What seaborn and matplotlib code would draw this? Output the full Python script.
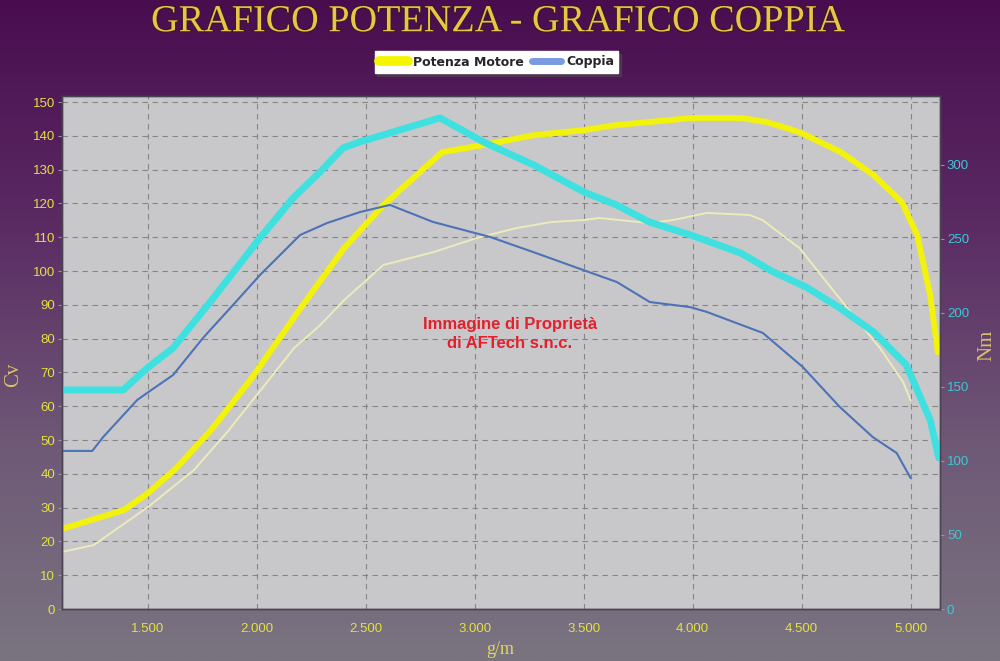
import numpy as np
import pandas as pd
import matplotlib
matplotlib.use("Agg")
import matplotlib.pyplot as plt
import seaborn as sns
from matplotlib.lines import Line2D
import matplotlib.patheffects as pe
from matplotlib.colors import LinearSegmentedColormap

# ---------------- data ----------------
rpm_potenza = [1106, 1390, 1500, 1630, 1790, 1970, 2200, 2320, 2400, 2580, 2850, 3040, 3270,
               3500, 3650, 3800, 4000, 4220, 4340, 4490, 4680, 4830, 4960, 5030, 5090, 5125]
cv_potenza = [23.7, 29.3, 34.3, 41.7, 53.0, 67.8, 89.0, 99.7, 106.8, 119.5, 135.2, 137.3, 140.2,
              141.7, 143.2, 144.1, 145.3, 145.3, 144.1, 141.1, 135.2, 128.4, 120.4, 110.7, 92.9, 76.0]

rpm_potenza_serie = [1106, 1250, 1500, 1710, 1860, 2010, 2170, 2290, 2400, 2580, 2810, 3010, 3190,
                     3350, 3500, 3570, 3800, 3910, 4065, 4260, 4320, 4490, 4615, 4735, 4860, 4965, 5000]
cv_potenza_serie = [16.9, 18.9, 30.2, 41.1, 52.1, 64.2, 77.2, 84.0, 91.4, 101.8, 105.6, 109.8, 112.7,
                    114.5, 115.1, 115.7, 114.2, 115.1, 117.2, 116.6, 115.1, 106.8, 96.7, 87.0, 77.2, 67.2, 61.8]

rpm_coppia = [1106, 1386, 1496, 1615, 1785, 2014, 2166, 2290, 2395, 2470, 2580, 2840, 3040, 3270,
              3500, 3650, 3800, 3990, 4220, 4370, 4520, 4675, 4830, 4980, 5040, 5090, 5130]
nm_coppia = [148.0, 148.0, 162.8, 176.4, 207.4, 250.7, 277.7, 295.3, 311.5, 315.5, 320.3, 331.8, 315.5, 300.0,
             281.8, 273.0, 261.5, 252.7, 240.5, 227.7, 217.6, 203.4, 187.2, 164.9, 144.6, 127.7, 102.0]

rpm_coppia_serie = [1106, 1244, 1294, 1450, 1496, 1615, 1752, 1890, 2014, 2198, 2322, 2473, 2610, 2808,
                    3069, 3267, 3496, 3652, 3803, 3987, 4065, 4322, 4505, 4675, 4826, 4936, 5000]
nm_coppia_serie = [106.8, 106.8, 116.2, 141.2, 146.0, 158.1, 183.1, 205.4, 225.7, 252.7, 260.8, 268.2, 273.0, 261.5,
                   251.4, 241.2, 229.1, 220.9, 207.4, 204.0, 200.7, 186.5, 163.5, 136.5, 116.2, 105.4, 88.5]

x_ticks = [1500, 2000, 2500, 3000, 3500, 4000, 4500, 5000]
x_tick_labels = ["1.500", "2.000", "2.500", "3.000", "3.500", "4.000", "4.500", "5.000"]
cv_ticks = list(range(0, 151, 10))
nm_ticks = list(range(0, 301, 50))

legend_labels = ["Potenza Motore", "Coppia"]
title = "GRAFICO POTENZA - GRAFICO COPPIA"
watermark = "Immagine di Proprietà\ndi AFTech s.n.c."

# ---------------- figure ----------------
sns.set_style("white")
fig = plt.figure(figsize=(10, 6.61), dpi=100)

bg = fig.add_axes([0, 0, 1, 1], zorder=-10)
grad = np.linspace(0, 1, 256).reshape(-1, 1)
cmap = LinearSegmentedColormap.from_list("bg", ["#490d4f", "#5a2a63", "#6e5876", "#7a7480"])
bg.imshow(grad, aspect="auto", cmap=cmap, extent=[0, 1, 0, 1], origin="upper")
bg.axis("off")

ax = fig.add_axes([0.062, 52 / 661, 0.878, 513 / 661])
ax.set_facecolor("#c8c8ca")
ax2 = ax.twinx()

sns.lineplot(x=rpm_potenza_serie, y=cv_potenza_serie, ax=ax, color="#ecebba", lw=1.4)
sns.lineplot(x=rpm_potenza, y=cv_potenza, ax=ax, color="#f2f20c", lw=4.3)
sns.lineplot(x=rpm_coppia_serie, y=nm_coppia_serie, ax=ax2, color="#4d72b6", lw=1.5)
sns.lineplot(x=rpm_coppia, y=nm_coppia, ax=ax2, color="#3ee0e0", lw=5)

ax.set_xlim(1105, 5135)
ax.set_ylim(0, 151.8)
ax2.set_ylim(0, 346.6)

ax.set_xticks(x_ticks)
ax.set_xticklabels(x_tick_labels)
ax.set_yticks(cv_ticks)
ax2.set_yticks(nm_ticks)
ax.set_xlabel("")
ax.set_ylabel("")
ax2.set_ylabel("")

ax.set_axisbelow(True)
ax.grid(True, color="#858585", linestyle=(0, (5, 4)), lw=0.8)
ax2.grid(False)

for a in (ax, ax2):
    for s in a.spines.values():
        s.set_color("#4a4452")
        s.set_linewidth(1)

ax.tick_params(axis="y", colors="#9a90a0", labelcolor="#e4e23c", labelsize=9.5, length=3, direction="out", pad=2)
ax.tick_params(axis="x", colors="#8a8a8a", labelcolor="#e4e23c", labelsize=9.5, length=4, direction="in", pad=10)
ax2.tick_params(axis="y", colors="#9a90a0", labelcolor="#3cc8d4", labelsize=9.5, length=3, direction="out", pad=2)
for lbl in ax.get_xticklabels() + ax.get_yticklabels() + ax2.get_yticklabels():
    lbl.set_family("Liberation Sans")

# axis titles
fig.text(14 / 1000, 1 - 375 / 661, "Cv", family="Liberation Serif", size=15, color="#d9c06a",
         rotation=90, ha="center", va="center")
fig.text(987 / 1000, 1 - 345 / 661, "Nm", family="Liberation Serif", size=15, color="#d9c06a",
         rotation=90, ha="center", va="center")
fig.text(500 / 1000, 1 - 649 / 661, "g/m", family="Liberation Serif", size=13, color="#e0d860",
         ha="center", va="center")

ax.text(0.51, 0.536, watermark, transform=ax.transAxes, ha="center", va="center",
        family="Liberation Sans", weight="bold", size=12, color="#e3202c", linespacing=1.3)

fig.text(0.499, 1 - 22 / 661, title, ha="center", va="center", family="Liberation Serif",
         size=27.5, color="#e8c448",
         path_effects=[pe.withStroke(linewidth=1.5, foreground="#3a1a20")])

handles = [Line2D([], [], color="#f5f500", lw=7), Line2D([], [], color="#7a9be0", lw=5)]
leg = fig.legend(handles=handles, labels=legend_labels, loc="center",
                 bbox_to_anchor=(0.4965, 1 - 62 / 661), ncol=2, frameon=True, fancybox=False,
                 shadow=True, prop=dict(weight="bold", size=9, family="DejaVu Sans"),
                 handlelength=2.3, columnspacing=0.7, handletextpad=0.4, borderpad=0.35,
                 borderaxespad=0.2, facecolor="white", edgecolor="white", framealpha=1)

fig.savefig("out.png", dpi=100)
